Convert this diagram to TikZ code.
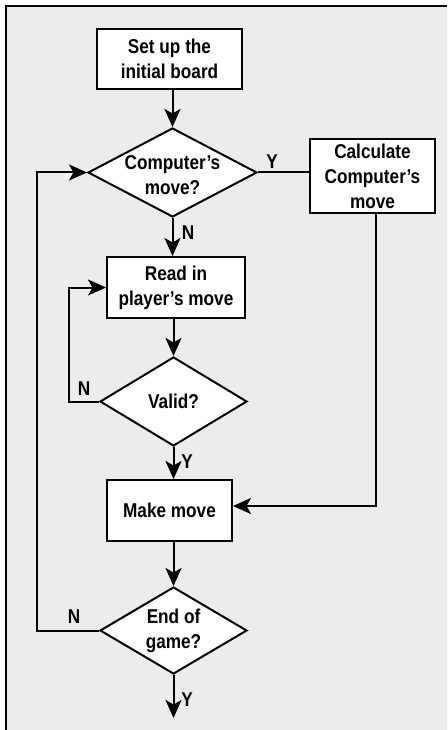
\documentclass[tikz,border=0pt]{standalone}
\usepackage{fontspec}
\setmainfont{Liberation Sans}[FakeStretch=0.86]
\usetikzlibrary{arrows.meta,shapes.geometric}
\definecolor{bggray}{HTML}{ECECEC}
\tikzset{
  txt/.style={font=\fontsize{20}{25}\selectfont\bfseries, align=center},
  procbox/.style={txt, draw, fill=white, line width=2pt, inner sep=0pt},
  decis/.style={diamond, draw, fill=white, line width=2pt, inner sep=0pt},
  conn/.style={line width=2pt},
  arr/.style={conn, -{Stealth[length=18pt,width=16pt,inset=4.5pt]}},
  yn/.style={txt, inner sep=0pt}
}
\begin{document}
\begin{tikzpicture}[x=1pt,y=-1pt]
\useasboundingbox (0,0) rectangle (447,730);
\fill[bggray] (5.8,6.2) rectangle (447,730);
\draw[line width=2.3pt] (5.8,730) -- (5.8,6.2) -- (447,6.2);

\node[procbox, minimum width=145pt, minimum height=60pt] (setup) at (169.5,59) {Set up the\\initial board};
\node[decis, minimum width=169pt, minimum height=89pt, label={[txt, yshift=-3pt]center:Computer's\\move?}] (comp) at (172.5,172.5) {};
\node[procbox, minimum width=125pt, minimum height=74pt] (calc) at (372.5,176) {Calculate\\Computer's\\move};
\node[procbox, minimum width=138pt, minimum height=61pt] (read) at (176,287.5) {Read in\\player's move};
\node[decis, minimum width=147pt, minimum height=89pt, label={[txt]center:Valid?}] (valid) at (173.5,401.5) {};
\node[procbox, minimum width=125pt, minimum height=61pt] (make) at (169.5,510.5) {Make move};
\node[decis, minimum width=147pt, minimum height=87pt, label={[txt]center:End of\\game?}] (endg) at (173.5,630.5) {};

\coordinate (exit) at (173.5,718);
\coordinate (loopL) at (37,630.5);
\coordinate (loopV) at (69,401.5);
\coordinate (calcturn) at (376,506);

\draw[arr] (setup.south -| comp.north) -- (comp.north);
\draw[conn] (comp.east) -- (comp.east -| calc.west);
\draw[arr] (comp.south) -- (comp.south |- read.north);
\draw[arr] (read.south -| valid.north) -- (valid.north);
\draw[arr] (valid.south) -- (valid.south |- make.north);
\draw[arr] (make.south -| endg.north) -- (endg.north);
\draw[arr] (endg.south) -- (exit);
\draw[arr] (valid.west) -- (loopV) |- (read.west);
\draw[arr] (endg.west) -- (loopL) |- (comp.west);
\draw[arr] (calc.south -| calcturn) -- (calcturn) -- (calcturn -| make.east);

\node[yn] (y1) at (272,162) {Y};
\node[yn] (n1) at (188,233) {N};
\node[yn] (n2) at (84,389) {N};
\node[yn] (y2) at (187,462) {Y};
\node[yn] (n3) at (74,617) {N};
\node[yn] (y3) at (187,700) {Y};
\end{tikzpicture}
\end{document}
